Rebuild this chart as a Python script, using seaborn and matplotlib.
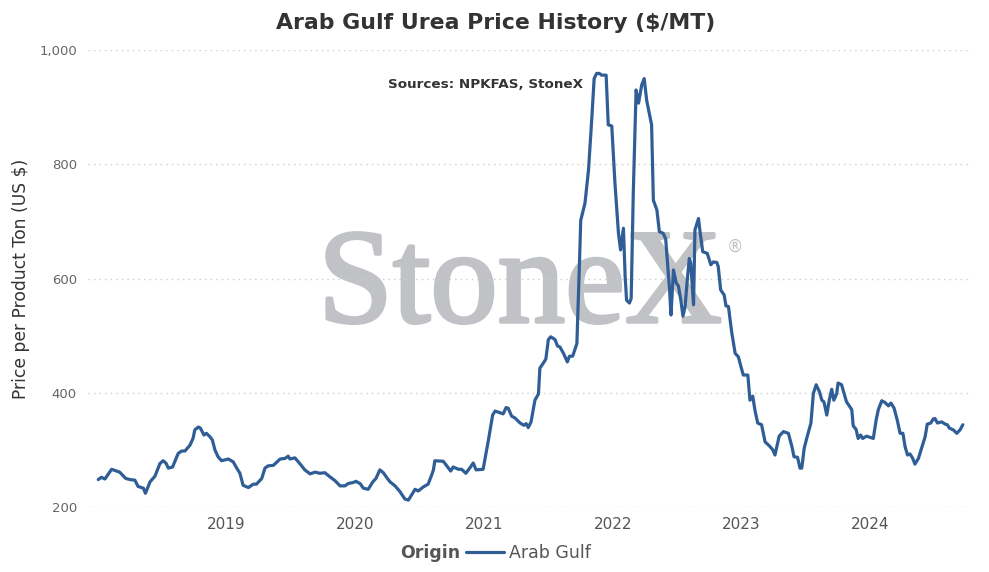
import matplotlib
matplotlib.use("Agg")
import matplotlib.pyplot as plt
import matplotlib.dates as mdates
import matplotlib.patheffects as pe
from matplotlib.ticker import FuncFormatter, FixedLocator
import seaborn as sns
import pandas as pd

# weekly-ish readings of the Arab Gulf urea price ($/MT)
dates_2018 = ["2018-01-02", "2018-01-11", "2018-01-21", "2018-02-09", "2018-02-23", "2018-03-04",
              "2018-03-21", "2018-04-02", "2018-04-16", "2018-04-25", "2018-05-10", "2018-05-16",
              "2018-05-29", "2018-06-12", "2018-06-26", "2018-07-05", "2018-07-13", "2018-07-20",
              "2018-08-01", "2018-08-17", "2018-08-27", "2018-09-05", "2018-09-19", "2018-09-28",
              "2018-10-03", "2018-10-13", "2018-10-19", "2018-10-29", "2018-11-05", "2018-11-15",
              "2018-11-22", "2018-11-29", "2018-12-08", "2018-12-18"]
price_2018 = [248, 252, 249, 266, 263, 261, 250, 248, 247, 236, 233, 224, 244, 254, 276, 281, 277, 268,
              270, 294, 298, 298, 308, 320, 335, 340, 338, 326, 329, 323, 317, 300, 288, 281]

dates_2019 = ["2019-01-06", "2019-01-20", "2019-01-30", "2019-02-08", "2019-02-17", "2019-03-04",
              "2019-03-18", "2019-03-27", "2019-04-11", "2019-04-20", "2019-04-29", "2019-05-14",
              "2019-06-02", "2019-06-16", "2019-06-25", "2019-06-30", "2019-07-14", "2019-07-28",
              "2019-08-11", "2019-08-26", "2019-09-09", "2019-09-23", "2019-10-07", "2019-10-21",
              "2019-11-05", "2019-11-19", "2019-12-03", "2019-12-12", "2019-12-27"]
price_2019 = [284, 279, 268, 259, 238, 234, 240, 240, 250, 268, 272, 273, 284, 285, 289, 284, 286, 276,
              265, 258, 261, 259, 260, 253, 246, 237, 237, 241, 243]

dates_2020 = ["2020-01-03", "2020-01-15", "2020-01-24", "2020-02-07", "2020-02-20", "2020-02-29",
              "2020-03-11", "2020-03-21", "2020-03-30", "2020-04-09", "2020-04-23", "2020-05-07",
              "2020-05-21", "2020-05-31", "2020-06-09", "2020-06-19", "2020-06-28", "2020-07-12",
              "2020-07-26", "2020-08-05", "2020-08-10", "2020-08-14", "2020-09-07", "2020-09-17",
              "2020-09-28", "2020-10-05", "2020-10-20", "2020-10-29", "2020-11-10", "2020-11-22",
              "2020-12-01", "2020-12-09", "2020-12-29"]
price_2020 = [245, 241, 233, 231, 244, 250, 265, 260, 252, 244, 237, 227, 214, 212, 221, 231, 228, 235,
              240, 256, 265, 281, 280, 272, 263, 270, 266, 266, 259, 269, 277, 265, 266]

dates_2021 = ["2021-01-13", "2021-01-25", "2021-02-01", "2021-02-15", "2021-02-24", "2021-03-04",
              "2021-03-10", "2021-03-20", "2021-03-29", "2021-04-13", "2021-04-24", "2021-04-30",
              "2021-05-06", "2021-05-14", "2021-05-25", "2021-06-04", "2021-06-08", "2021-06-20",
              "2021-06-25", "2021-07-02", "2021-07-09", "2021-07-21", "2021-07-28", "2021-08-04",
              "2021-08-14", "2021-08-25", "2021-08-31", "2021-09-09", "2021-09-21", "2021-09-25",
              "2021-09-28", "2021-10-02", "2021-10-14", "2021-10-24", "2021-11-02", "2021-11-09",
              "2021-11-16", "2021-11-24", "2021-11-30", "2021-12-13", "2021-12-19", "2021-12-29"]
price_2021 = [317, 361, 368, 365, 363, 374, 373, 359, 356, 347, 343, 346, 339, 349, 387, 398, 443, 454,
              459, 493, 498, 493, 482, 480, 469, 454, 464, 464, 486, 560, 620, 702, 732, 790, 877, 950,
              959, 959, 956, 956, 869, 867]

dates_2022 = ["2022-01-07", "2022-01-17", "2022-01-23", "2022-01-31", "2022-02-05", "2022-02-09",
              "2022-02-17", "2022-02-22", "2022-02-28", "2022-03-08", "2022-03-15", "2022-03-24",
              "2022-03-31", "2022-04-07", "2022-04-21", "2022-04-26", "2022-05-06", "2022-05-13",
              "2022-05-24", "2022-05-31", "2022-06-06", "2022-06-11", "2022-06-15", "2022-06-22",
              "2022-06-30", "2022-07-06", "2022-07-13", "2022-07-19", "2022-07-25", "2022-08-01",
              "2022-08-06", "2022-08-10", "2022-08-18", "2022-08-22", "2022-09-01", "2022-09-06",
              "2022-09-13", "2022-09-26", "2022-10-06", "2022-10-13", "2022-10-23", "2022-10-27",
              "2022-11-03", "2022-11-13", "2022-11-18", "2022-11-25", "2022-12-04", "2022-12-14",
              "2022-12-23"]
price_2022 = [767, 679, 650, 688, 603, 562, 557, 565, 749, 930, 907, 939, 950, 912, 869, 737, 720, 682,
              679, 669, 621, 580, 536, 615, 592, 587, 562, 534, 551, 603, 635, 627, 554, 685, 705, 679,
              647, 644, 624, 629, 628, 621, 580, 571, 552, 551, 507, 469, 463]

dates_2023 = ["2023-01-06", "2023-01-19", "2023-01-25", "2023-02-02", "2023-02-08", "2023-02-16",
              "2023-02-27", "2023-03-09", "2023-03-21", "2023-03-31", "2023-04-06", "2023-04-18",
              "2023-04-30", "2023-05-14", "2023-05-24", "2023-05-30", "2023-06-09", "2023-06-16",
              "2023-06-21", "2023-06-28", "2023-07-05", "2023-07-17", "2023-07-24", "2023-08-01",
              "2023-08-10", "2023-08-17", "2023-08-23", "2023-08-31", "2023-09-07", "2023-09-14",
              "2023-09-20", "2023-09-28", "2023-10-02", "2023-10-12", "2023-10-26", "2023-11-05",
              "2023-11-10", "2023-11-14", "2023-11-22", "2023-11-28", "2023-12-05", "2023-12-11",
              "2023-12-22"]
price_2023 = [431, 431, 387, 394, 370, 347, 344, 314, 307, 300, 291, 324, 332, 329, 306, 288, 287, 268,
              268, 303, 320, 347, 399, 414, 402, 387, 384, 361, 387, 406, 387, 398, 417, 414, 384, 375,
              370, 342, 336, 320, 326, 320, 324]

dates_2024 = ["2024-01-10", "2024-01-18", "2024-01-24", "2024-02-03", "2024-02-12", "2024-02-22",
              "2024-02-29", "2024-03-09", "2024-03-18", "2024-03-26", "2024-04-03", "2024-04-09",
              "2024-04-16", "2024-04-23", "2024-05-01", "2024-05-07", "2024-05-17", "2024-05-26",
              "2024-06-05", "2024-06-11", "2024-06-21", "2024-06-28", "2024-07-03", "2024-07-10",
              "2024-07-22", "2024-08-01", "2024-08-07", "2024-08-13", "2024-08-24", "2024-09-03",
              "2024-09-12", "2024-09-20"]
price_2024 = [320, 352, 370, 386, 383, 377, 382, 373, 352, 329, 329, 306, 291, 293, 285, 275, 285, 303,
              323, 345, 347, 354, 355, 347, 349, 345, 344, 338, 335, 329, 335, 344]

year_ticks = [2019, 2020, 2021, 2022, 2023, 2024]
price_ticks = [200, 400, 600, 800, 1000]

dates = pd.to_datetime(dates_2018 + dates_2019 + dates_2020 + dates_2021 +
                       dates_2022 + dates_2023 + dates_2024)
prices = price_2018 + price_2019 + price_2020 + price_2021 + price_2022 + price_2023 + price_2024
df = pd.DataFrame({"Date": dates, "Price": prices, "Origin": "Arab Gulf"})

sns.set_style("white")
plt.rcParams["font.family"] = ["DejaVu Sans"]

W, H = 989, 572
fig = plt.figure(figsize=(W / 100, H / 100), dpi=100)
ax = fig.add_axes([88 / W, 1 - 507 / H, (972 - 88) / W, (507 - 50) / H])

line_color = "#2f5e97"
sns.lineplot(data=df, x="Date", y="Price", color=line_color, linewidth=2.3, ax=ax,
             label="Arab Gulf", legend=False, zorder=3)

ax.set_ylim(200, 1000)
ax.set_xlim(pd.Timestamp("2017-12-04"), pd.Timestamp("2024-10-16"))
ax.yaxis.set_major_locator(FixedLocator(price_ticks))
ax.yaxis.set_major_formatter(FuncFormatter(lambda v, p: f"{int(v):,}"))
ax.xaxis.set_major_locator(FixedLocator([mdates.date2num(pd.Timestamp(f"{y}-01-01")) for y in year_ticks]))
ax.xaxis.set_major_formatter(mdates.DateFormatter("%Y"))
ax.tick_params(axis="y", length=0, pad=8, labelsize=9.5, labelcolor="#666666")
ax.tick_params(axis="x", length=0, pad=7, labelsize=11, labelcolor="#555555")
ax.grid(axis="y", color="#cccccc", linestyle=(0, (1, 3)), linewidth=1, zorder=1)
ax.grid(axis="x", visible=False)
for s in ax.spines.values():
    s.set_visible(False)
ax.set_xlabel("")
ax.set_ylabel("Price per Product Ton (US $)", fontsize=12.3, color="#333333")
ax.yaxis.set_label_coords(-(88 - 30) / (972 - 88), 0.5)

# watermark behind the grid and the line
wm_color = "#c1c2c6"
ax.text(318 / W, 1 - 322 / H, "StoneX", transform=fig.transFigure, family="Liberation Serif",
        fontsize=97, color=wm_color, ha="left", va="baseline", zorder=0.1,
        path_effects=[pe.withStroke(linewidth=2.5, foreground=wm_color)])
ax.text(735 / W, 1 - 247 / H, "\u00ae", transform=fig.transFigure, family="DejaVu Sans",
        fontsize=12, color=wm_color, ha="center", va="center", zorder=0.1)

fig.text(496 / W, 1 - 23 / H, "Arab Gulf Urea Price History ($/MT)", ha="center", va="center",
         fontsize=15.8, fontweight="bold", color="#333333")
fig.text(485 / W, 1 - 84 / H, "Sources: NPKFAS, StoneX", ha="center", va="center",
         fontsize=9.7, fontweight="bold", color="#333333")

# legend at the bottom: "Origin" label then the series entry
fig.text(460 / W, 1 - 553 / H, "Origin", ha="right", va="center", fontsize=12.5,
         fontweight="bold", color="#555555")
handles, labels = ax.get_legend_handles_labels()
fig.legend(handles, labels, loc="center left", bbox_to_anchor=(459 / W, 1 - 553 / H),
           frameon=False, fontsize=12.5, handlelength=2.2, handletextpad=0.3,
           labelcolor="#555555", borderaxespad=0)

fig.savefig("out.png", dpi=100)
